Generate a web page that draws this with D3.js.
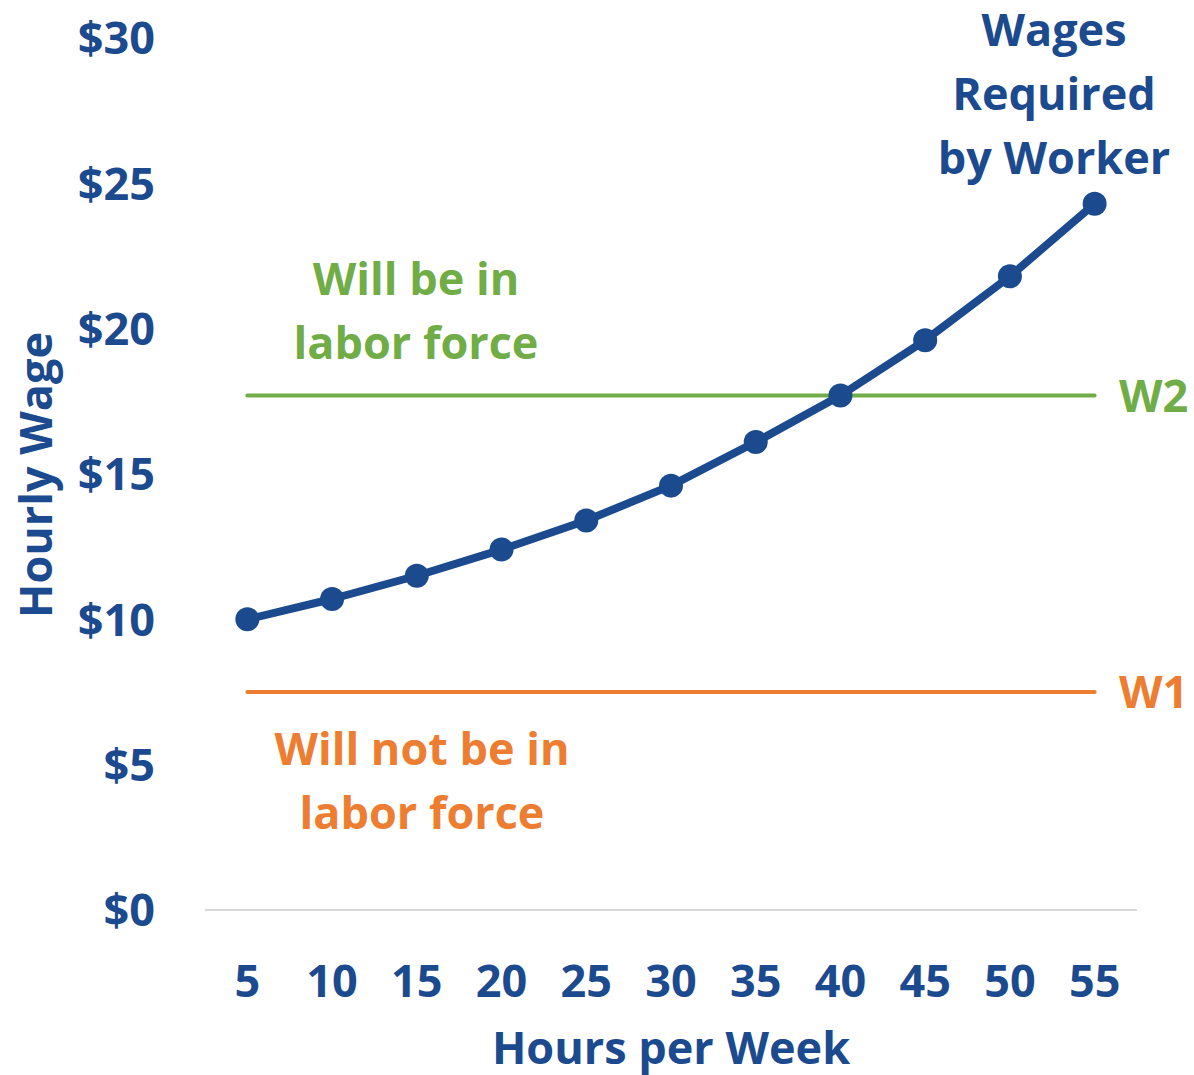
<!DOCTYPE html>
<html lang="en">
<head>
    <meta charset="UTF-8">
    <title>Wages Required by Worker</title>
    <style>
        body {
            margin: 0;
            padding: 0;
            background: #ffffff;
        }
        svg text {
            font-family: "Open Sans", "Noto Sans", sans-serif;
            font-weight: bold;
        }
    </style>
</head>
<body>

<div id="chart"></div>

<script src="https://d3js.org/d3.v7.min.js"></script>
<script>
    // Data
    const hours = [5, 10, 15, 20, 25, 30, 35, 40, 45, 50, 55];
    const requiredWage = [10.0, 10.7, 11.5, 12.4, 13.4, 14.6, 16.1, 17.7, 19.6, 21.8, 24.3];
    const yTicks = [0, 5, 10, 15, 20, 25, 30];
    const w1 = 7.5;
    const w2 = 17.7;

    const navy = "#1b4a8f",
          green = "#70ad47",
          orange = "#ed7d31";

    const width = 1194,
          height = 1075;

    const svg = d3.select("#chart").append("svg")
        .attr("width", width)
        .attr("height", height);

    // Scales
    const x = d3.scaleBand()
        .domain(hours)
        .range([205, 1137]);

    const y = d3.scaleLinear()
        .domain([0, 30])
        .range([910, 38]);

    const cx = d => x(d) + x.bandwidth() / 2;

    // Baseline axis
    svg.append("line")
        .attr("x1", 205)
        .attr("x2", 1137)
        .attr("y1", y(0))
        .attr("y2", y(0))
        .attr("stroke", "#d9d9d9")
        .attr("stroke-width", 2);

    // Y tick labels
    const yAxis = svg.append("g")
        .attr("transform", "translate(155,0)")
        .call(d3.axisLeft(y).tickValues(yTicks).tickSize(0).tickPadding(0)
            .tickFormat(d => "$" + d));
    yAxis.select(".domain").remove();
    yAxis.selectAll("text")
        .attr("fill", navy)
        .attr("dy", "0.35em")
        .style("font-size", "45px");

    // X tick labels
    const xAxis = svg.append("g")
        .attr("transform", "translate(0,997)")
        .call(d3.axisBottom(x).tickSize(0).tickPadding(0));
    xAxis.select(".domain").remove();
    xAxis.selectAll("text")
        .attr("fill", navy)
        .attr("dy", 0)
        .style("font-size", "45px");

    // Axis titles
    svg.append("text")
        .attr("x", 671)
        .attr("y", 1064)
        .attr("text-anchor", "middle")
        .attr("fill", navy)
        .style("font-size", "45px")
        .text("Hours per Week");

    svg.append("text")
        .attr("transform", "translate(52,475) rotate(-90)")
        .attr("text-anchor", "middle")
        .attr("fill", navy)
        .style("font-size", "45px")
        .text("Hourly Wage");

    // Reference wage lines
    const refs = [
        { value: w2, color: green, label: "W2" },
        { value: w1, color: orange, label: "W1" }
    ];

    svg.selectAll(".ref")
        .data(refs)
        .enter().append("line")
        .attr("class", "ref")
        .attr("x1", cx(hours[0]))
        .attr("x2", cx(hours[hours.length - 1]))
        .attr("y1", d => y(d.value))
        .attr("y2", d => y(d.value))
        .attr("stroke", d => d.color)
        .attr("stroke-width", 4)
        .attr("stroke-linecap", "round");

    svg.selectAll(".ref-label")
        .data(refs)
        .enter().append("text")
        .attr("class", "ref-label")
        .attr("x", 1119)
        .attr("y", d => y(d.value) + 16)
        .attr("fill", d => d.color)
        .style("font-size", "45px")
        .text(d => d.label);

    // Wage curve
    const line = d3.line()
        .x((d, i) => cx(hours[i]))
        .y(d => y(d));

    svg.append("path")
        .datum(requiredWage)
        .attr("d", line)
        .attr("fill", "none")
        .attr("stroke", navy)
        .attr("stroke-width", 8)
        .attr("stroke-linejoin", "round");

    svg.selectAll(".dot")
        .data(requiredWage)
        .enter().append("circle")
        .attr("class", "dot")
        .attr("cx", (d, i) => cx(hours[i]))
        .attr("cy", d => y(d))
        .attr("r", 12)
        .attr("fill", navy);

    // Annotations
    function multiline(lines, xPos, yPos, color) {
        const t = svg.append("text")
            .attr("x", xPos)
            .attr("y", yPos)
            .attr("text-anchor", "middle")
            .attr("fill", color)
            .style("font-size", "45px");
        lines.forEach((s, i) => {
            t.append("tspan")
                .attr("x", xPos)
                .attr("dy", i === 0 ? 0 : 64)
                .text(s);
        });
    }

    multiline(["Wages", "Required", "by Worker"], 1054, 46, navy);
    multiline(["Will be in", "labor force"], 416, 295, green);
    multiline(["Will not be in", "labor force"], 422, 765, orange);
</script>

</body>
</html>
